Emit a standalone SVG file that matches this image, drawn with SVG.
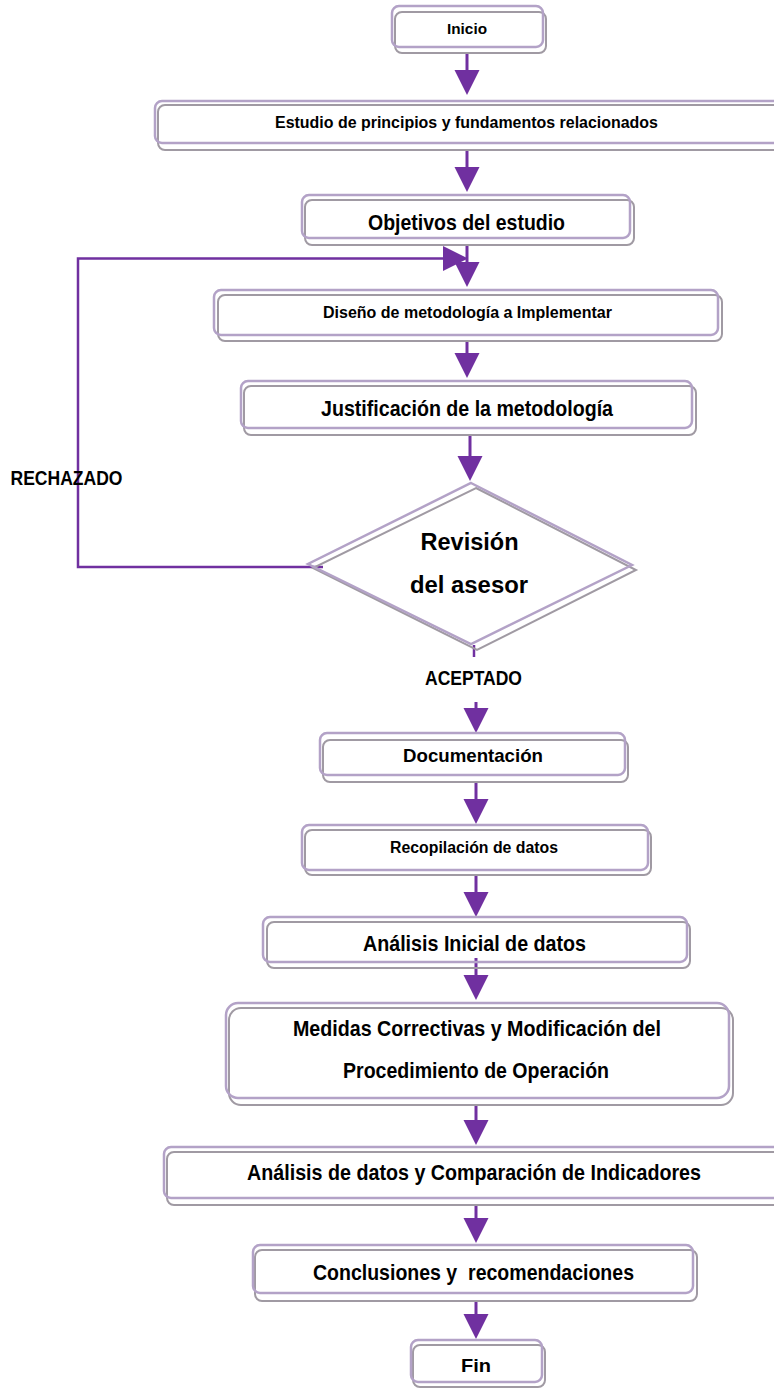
<svg xmlns="http://www.w3.org/2000/svg" width="774" height="1388" viewBox="0 0 774 1388">
<style>
.p{fill:none;stroke:#b3a2c7;stroke-width:2.5}
.g{fill:none;stroke:#a09aa3;stroke-width:2}
.t{font-family:"Liberation Sans",Arial,sans-serif;font-weight:bold;fill:#000;text-anchor:middle}
.c{fill:none;stroke:#7030a0;stroke-width:3}
.fb{fill:none;stroke:#7030a0;stroke-width:2.5}
</style>
<defs>
<marker id="ah" markerUnits="userSpaceOnUse" markerWidth="26" markerHeight="26" refX="0" refY="12.5" orient="auto">
<path d="M0,0 L25,12.5 L0,25 Z" fill="#7030a0"/>
</marker>
</defs>
<rect width="774" height="1388" fill="#fff"/>
<g id="connectors">
<path class="c" d="M467,53 V70" marker-end="url(#ah)"/>
<path class="c" d="M467,150 V167" marker-end="url(#ah)"/>
<path class="c" d="M467,245 V262" marker-end="url(#ah)"/>
<path class="c" d="M467,341 V353" marker-end="url(#ah)"/>
<path class="c" d="M470,435 V456" marker-end="url(#ah)"/>
<path class="fb" d="M323,567 H78 V258.5 H443" marker-end="url(#ah)"/>
<path class="fb" d="M474,645 V657"/>
<path class="c" d="M476,702 V708" marker-end="url(#ah)"/>
<path class="c" d="M476,782 V799" marker-end="url(#ah)"/>
<path class="c" d="M476,875 V892" marker-end="url(#ah)"/>
<path class="c" d="M476,958 V975" marker-end="url(#ah)"/>
<path class="c" d="M476,1105 V1120" marker-end="url(#ah)"/>
<path class="c" d="M476,1205 V1218" marker-end="url(#ah)"/>
<path class="c" d="M476,1301 V1314" marker-end="url(#ah)"/>
</g>
<g id="n_inicio">
<rect class="g" x="395" y="12" width="151" height="41" rx="7"/>
<rect class="p" x="392" y="6" width="151" height="41" rx="7"/>
<text class="t" x="467" y="33.6" font-size="15.5" textLength="40" lengthAdjust="spacingAndGlyphs">Inicio</text>
</g>
<g id="n_estudio">
<rect class="g" x="158" y="105" width="640" height="45" rx="7"/>
<rect class="p" x="155" y="101" width="640" height="42" rx="7"/>
<text class="t" x="466.5" y="128.1" font-size="17" textLength="383" lengthAdjust="spacingAndGlyphs">Estudio de principios y fundamentos relacionados</text>
</g>
<g id="n_objetivos">
<rect class="g" x="305" y="200" width="329" height="45" rx="7"/>
<rect class="p" x="302" y="195" width="328" height="43" rx="7"/>
<text class="t" x="466.5" y="229.9" font-size="22" textLength="197" lengthAdjust="spacingAndGlyphs">Objetivos del estudio</text>
</g>
<g id="n_diseno">
<rect class="g" x="218" y="295" width="504" height="46" rx="7"/>
<rect class="p" x="214" y="290" width="504" height="45" rx="7"/>
<text class="t" x="467.5" y="318.1" font-size="17" textLength="289" lengthAdjust="spacingAndGlyphs">Diseño de metodología a Implementar</text>
</g>
<g id="n_justificacion">
<rect class="g" x="244" y="386" width="452" height="49" rx="7"/>
<rect class="p" x="241" y="381" width="451" height="47" rx="7"/>
<text class="t" x="467" y="415.9" font-size="22" textLength="292" lengthAdjust="spacingAndGlyphs">Justificación de la metodología</text>
</g>
<g id="n_revision">
<polygon class="g" points="476,488 636,570 477,650 313,568"/>
<polygon class="p" points="471,483 632,565 471,644 308,564"/>
<text class="t" x="469.5" y="550.2" font-size="23" textLength="98" lengthAdjust="spacingAndGlyphs">Revisión</text>
<text class="t" x="469" y="593.2" font-size="23" textLength="118" lengthAdjust="spacingAndGlyphs">del asesor</text>
</g>
<g id="labels">
<text class="t" x="66.5" y="485.2" font-size="20" textLength="112" lengthAdjust="spacingAndGlyphs">RECHAZADO</text>
<text class="t" x="473.5" y="685.2" font-size="20" textLength="97" lengthAdjust="spacingAndGlyphs">ACEPTADO</text>
</g>
<g id="n_documentacion">
<rect class="g" x="323" y="740" width="305" height="42" rx="7"/>
<rect class="p" x="320" y="733" width="305" height="42" rx="7"/>
<text class="t" x="473" y="761.6" font-size="18.5" textLength="140" lengthAdjust="spacingAndGlyphs">Documentación</text>
</g>
<g id="n_recopilacion">
<rect class="g" x="305" y="830" width="346" height="45" rx="7"/>
<rect class="p" x="302" y="825" width="346" height="45" rx="7"/>
<text class="t" x="474" y="852.7" font-size="16" textLength="168" lengthAdjust="spacingAndGlyphs">Recopilación de datos</text>
</g>
<g id="n_analisis_inicial">
<rect class="g" x="267" y="922" width="423" height="46" rx="7"/>
<rect class="p" x="263" y="917" width="424" height="45" rx="7"/>
<text class="t" x="474.5" y="950.9" font-size="22" textLength="223" lengthAdjust="spacingAndGlyphs">Análisis Inicial de datos</text>
</g>
<g id="n_medidas">
<rect class="g" x="229" y="1008" width="504" height="97" rx="12"/>
<rect class="p" x="226" y="1003" width="503" height="95" rx="12"/>
<text class="t" x="477" y="1035.9" font-size="22" textLength="368" lengthAdjust="spacingAndGlyphs">Medidas Correctivas y Modificación del</text>
<text class="t" x="476" y="1077.9" font-size="22" textLength="266" lengthAdjust="spacingAndGlyphs">Procedimiento de Operación</text>
</g>
<g id="n_analisis_datos">
<rect class="g" x="167" y="1152" width="640" height="53" rx="7"/>
<rect class="p" x="164" y="1147" width="640" height="51" rx="7"/>
<text class="t" x="474" y="1179.9" font-size="22" textLength="454" lengthAdjust="spacingAndGlyphs">Análisis de datos y Comparación de Indicadores</text>
</g>
<g id="n_conclusiones">
<rect class="g" x="255" y="1250" width="442" height="51" rx="7"/>
<rect class="p" x="253" y="1245" width="440" height="48" rx="7"/>
<text class="t" x="473.5" y="1279.9" font-size="22" textLength="321" lengthAdjust="spacingAndGlyphs" xml:space="preserve">Conclusiones y  recomendaciones</text>
</g>
<g id="n_fin">
<rect class="g" x="413" y="1345" width="132" height="42" rx="7"/>
<rect class="p" x="411" y="1340" width="131" height="42" rx="7"/>
<text class="t" x="476" y="1371.8" font-size="19" textLength="30" lengthAdjust="spacingAndGlyphs">Fin</text>
</g>
</svg>
